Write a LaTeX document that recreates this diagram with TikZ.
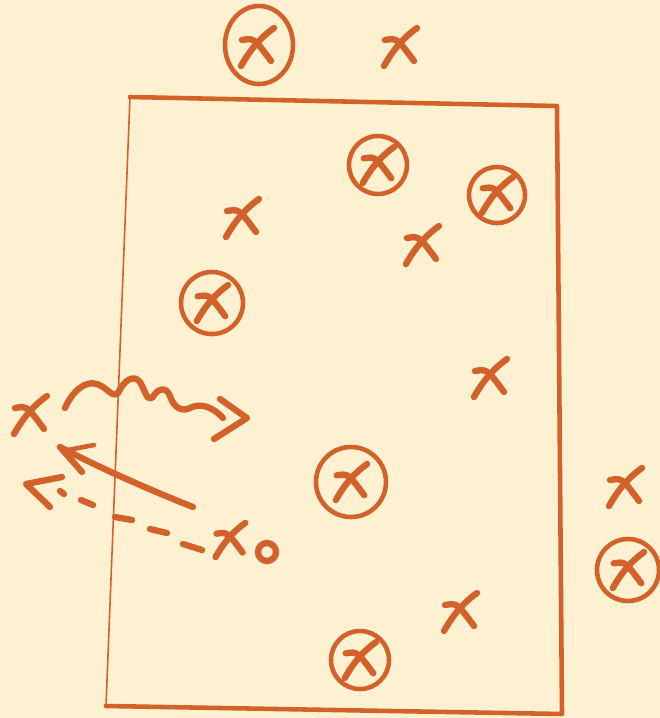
\documentclass[tikz,border=0pt]{standalone}
\usepackage{tikz}
\usetikzlibrary{calc}
\definecolor{Paper}{HTML}{FDF1D1}
\definecolor{Rust} {HTML}{D2622A}
\tikzset{
  pen/.style={draw=Rust, line width=3.6pt, line cap=round, line join=round},
  ink/.style={draw=Rust, line width=2.6pt, line cap=round, line join=round},
  hair/.style={draw=Rust, line width=0.9pt, line cap=round},
  % hand drawn x
  cross/.pic={
    \draw[pen] (-16,19) .. controls (-7,3) and (3,-9) .. (17,-19);
    \draw[pen] (-15,-7) .. controls (-3,-9) .. (14,14);
  },
  % x with a ring round it
  ringx/.pic={
    \draw[ink] (0,0) circle [radius=#1];
    \pic[scale=0.95] {cross};
  },
}
\begin{document}
\begin{tikzpicture}[x=0.02cm,y=-0.02cm]

  \fill[Paper] (0,0) rectangle (660,718);
  \useasboundingbox (0,0) rectangle (660,718);

  % the box
  \coordinate (TL) at (130,97);
  \coordinate (TR) at (557,106);
  \coordinate (BR) at (562,714);
  \coordinate (BL) at (106,706);
  \draw[hair] (TL) -- (BL);
  \draw[ink] (TL) -- (TR) -- (BR) -- (BL);

  % plain crosses
  \pic at (400,47)  {cross};
  \pic at (242,218) {cross};
  \pic at (422,245) {cross};
  \pic at (490,378) {cross};
  \pic at (30,415)  {cross};
  \pic at (625,487) {cross};
  \pic at (460,612) {cross};
  \pic[scale=0.9] at (230,540) {cross};

  % ringed crosses
  \draw[ink] (259,45) ellipse [x radius=34, y radius=39];
  \pic at (257,47) {cross};
  \pic at (378,165) {ringx=29};
  \pic at (497,195) {ringx=28};
  \pic at (212,303) {ringx=31};
  \pic at (351,482) {ringx=35};
  \pic at (628,570) {ringx=31};
  \pic at (360,660) {ringx=29};

  % small o
  \draw[pen] (267,552) circle [radius=9];

  % wavy arrow
  \coordinate (W0) at (65,408);
  \coordinate (W1) at (223,418);
  \draw[pen] (W0) .. controls (72,392) and (85,380) .. (97,384)
        .. controls (108,388) and (112,398) .. (118,393)
        .. controls (124,380) and (134,374) .. (140,382)
        .. controls (146,392) and (146,400) .. (152,398)
        .. controls (158,388) and (166,386) .. (170,396)
        .. controls (174,408) and (182,412) .. (190,408)
        .. controls (200,403) and (212,406) .. (W1);
  \draw[pen] (220,399) -- (247,418) -- (214,439);

  % solid arrow
  \coordinate (A0) at (193,507);
  \coordinate (A1) at (60,447);
  \draw[pen] (A0) .. controls (150,490) and (100,468) .. (A1);
  \draw[pen] (A1) -- (82,472);
  \draw[ink] (68,450) -- (94,445);

  % dashed arrow
  \coordinate (D0) at (202,550);
  \coordinate (D1) at (60,491);
  \draw[pen] (D0) -- (183,544);
  \draw[pen] (167,533) -- (150,529);
  \draw[pen] (132,520) -- (115,517);
  \draw[pen] (93,505) -- (81,500);
  \draw[pen] (64,494) -- (D1);
  \draw[pen] (62,477) -- (26,484) -- (50,507);

\end{tikzpicture}
\end{document}
